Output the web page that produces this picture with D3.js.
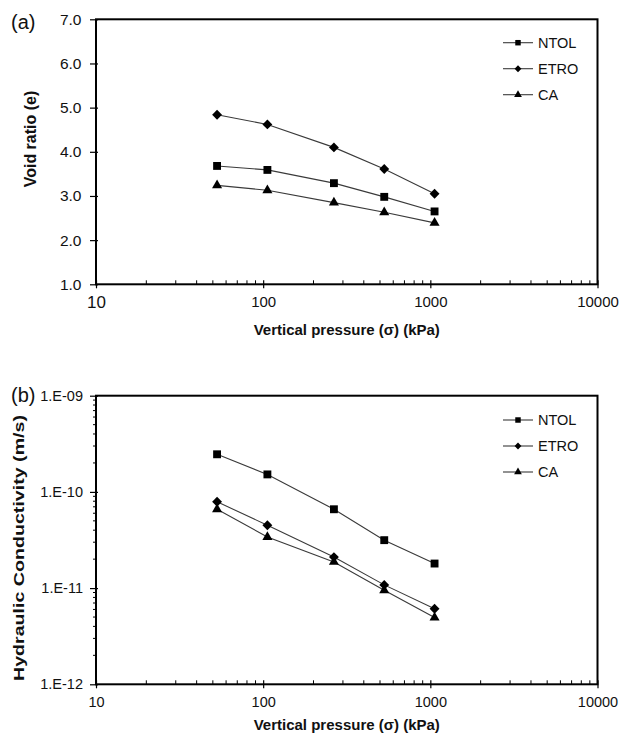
<!DOCTYPE html>
<html>
<head>
<meta charset="utf-8">
<script src="https://cdn.jsdelivr.net/npm/d3@7"></script>
<style>
body { margin: 0; background: #fff; }
svg { font-family: "Liberation Sans", Arial, sans-serif; }
</style>
</head>
<body>
<svg width="620" height="735"></svg>
<script>
// data
var pressure = [53, 106, 265, 530, 1060];
var seriesNames = ["NTOL", "ETRO", "CA"];

var voidNTOL = [3.68, 3.59, 3.29, 2.98, 2.65];
var voidETRO = [4.84, 4.62, 4.10, 3.61, 3.05];
var voidCA   = [3.24, 3.13, 2.85, 2.63, 2.39];

var kNTOL = [2.46e-10, 1.52e-10, 6.6e-11, 3.15e-11, 1.8e-11];
var kETRO = [7.9e-11, 4.5e-11, 2.1e-11, 1.08e-11, 6.1e-12];
var kCA   = [6.6e-11, 3.4e-11, 1.87e-11, 9.5e-12, 4.95e-12];

var xTicks = [10, 100, 1000, 10000];
var voidTicks = [1, 2, 3, 4, 5, 6, 7];
var kTicks = [1e-12, 1e-11, 1e-10, 1e-9];

var symbols = [d3.symbolSquare, d3.symbolDiamond2, d3.symbolTriangle];
var symSize = [62, 62, 44];
var legSize = [30, 30, 26];

var svg = d3.select("svg");
var left = 96, right = 597.5;

function minorsOf(decades) {
    var out = [];
    decades.forEach(function(d) {
	for (var m = 2; m <= 9; m++) out.push(m * d);
    });
    return out;
}

function panel(opt) {
    var g = svg.append("g");
    var x = d3.scaleLog().domain([10, 10000]).range([left, right]);
    var y = opt.y.range([opt.bottom, opt.top]);

    // minor ticks on x, pointing inwards
    g.selectAll(".xminor").data(minorsOf([10, 100, 1000])).enter()
	.append("line")
	.attr("x1", function(d) { return x(d); })
	.attr("x2", function(d) { return x(d); })
	.attr("y1", opt.bottom).attr("y2", opt.bottom - 4)
	.attr("stroke", "#000").attr("stroke-width", 1);

    if (opt.yMinor) {
	g.selectAll(".yminor").data(opt.yMinor).enter()
	    .append("line")
	    .attr("x1", left - 3).attr("x2", left)
	    .attr("y1", function(d) { return y(d); })
	    .attr("y2", function(d) { return y(d); })
	    .attr("stroke", "#000").attr("stroke-width", 1);
    }

    var line = d3.line()
	.x(function(d, i) { return x(pressure[i]); })
	.y(function(d) { return y(d); });

    opt.series.forEach(function(vals, s) {
	g.append("path")
	    .attr("d", line(vals))
	    .attr("fill", "none")
	    .attr("stroke", "#3a3a3a")
	    .attr("stroke-width", 1.1);
	g.selectAll(".m" + s).data(vals).enter()
	    .append("path")
	    .attr("transform", function(d, i) {
		return "translate(" + x(pressure[i]) + "," + y(d) + ")";
	    })
	    .attr("d", d3.symbol().type(symbols[s]).size(symSize[s]))
	    .attr("fill", "#000");
    });

    // frame
    g.append("rect")
	.attr("x", left).attr("y", opt.top)
	.attr("width", right - left).attr("height", opt.bottom - opt.top)
	.attr("fill", "none").attr("stroke", "#000").attr("stroke-width", 2);

    var xa = g.append("g")
	.attr("transform", "translate(0," + opt.bottom + ")")
	.call(d3.axisBottom(x).tickValues(xTicks).tickFormat(d3.format("d"))
	      .tickSizeInner(3).tickSizeOuter(0).tickPadding(9));
    xa.select(".domain").remove();
    xa.selectAll(".tick line").attr("y1", -4).attr("y2", 4).attr("stroke-width", 1.2);
    xa.selectAll(".tick text").attr("font-size", opt.xTickSize).attr("font-family", null).attr("fill", "#111");
    if (opt.bigTen) xa.select(".tick text").attr("font-size", 17);

    var ya = g.append("g")
	.attr("transform", "translate(" + left + ",0)")
	.call(d3.axisLeft(y).tickValues(opt.yTicks).tickFormat(opt.yFormat)
	      .tickSizeInner(6).tickSizeOuter(0).tickPadding(opt.yPad));
    ya.select(".domain").remove();
    ya.selectAll(".tick line").attr("x1", 2).attr("stroke-width", 1.2);
    ya.selectAll(".tick text").attr("font-size", opt.yTickSize).attr("font-family", null).attr("fill", "#111");

    // legend
    var leg = g.append("g");
    seriesNames.forEach(function(name, s) {
	var ly = opt.legendTop + s * 26;
	leg.append("line")
	    .attr("x1", 503).attr("x2", 533).attr("y1", ly).attr("y2", ly)
	    .attr("stroke", "#3a3a3a").attr("stroke-width", 1.1);
	leg.append("path")
	    .attr("transform", "translate(518," + ly + ")")
	    .attr("d", d3.symbol().type(symbols[s]).size(legSize[s]))
	    .attr("fill", "#000");
	leg.append("text")
	    .attr("x", 538).attr("y", ly).attr("dy", "0.36em")
	    .attr("font-size", 14.5).attr("fill", "#111")
	    .text(name);
    });

    // titles
    g.append("text")
	.attr("x", (left + right) / 2).attr("y", opt.xTitleY)
	.attr("text-anchor", "middle").attr("font-size", 15).attr("font-weight", "bold")
	.attr("fill", "#111")
	.text("Vertical pressure (\u03c3) (kPa)");

    var yt = g.append("text")
	.attr("transform", "translate(" + opt.yTitleX + "," + opt.yTitleY + ") rotate(-90)")
	.attr("text-anchor", "middle").attr("font-size", opt.yTitleSize).attr("font-weight", "bold")
	.attr("fill", "#111")
	.text(opt.yTitle);
    if (opt.yTitleLen) yt.attr("textLength", opt.yTitleLen).attr("lengthAdjust", "spacingAndGlyphs");

    g.append("text")
	.attr("x", 11).attr("y", opt.tagY)
	.attr("font-size", 20).attr("fill", "#111")
	.text(opt.tag);
}

panel({
    top: 19.3, bottom: 284.3,
    y: d3.scaleLinear().domain([1, 7]),
    yTicks: voidTicks,
    yFormat: d3.format(".1f"),
    yTickSize: 15.5, yPad: 8.5,
    xTickSize: 15,
    series: [voidNTOL, voidETRO, voidCA],
    legendTop: 42.7,
    xTitleY: 335,
    yTitle: "Void ratio (e)", yTitleX: 36, yTitleY: 139, yTitleSize: 16,
    tag: "(a)", tagY: 29,
    bigTen: true
});

panel({
    top: 395.7, bottom: 684.3,
    y: d3.scaleLog().domain([1e-12, 1e-9]),
    yTicks: kTicks,
    yFormat: function(d) {
	var e = Math.round(-Math.log10(d));
	return "1.E-" + (e < 10 ? "0" + e : e);
    },
    yMinor: minorsOf([1e-12, 1e-11, 1e-10]),
    yTickSize: 14.5, yPad: 7,
    xTickSize: 14.5,
    series: [kNTOL, kETRO, kCA],
    legendTop: 420,
    xTitleY: 730,
    yTitle: "Hydraulic Conductivity (m/s)", yTitleX: 24, yTitleY: 548, yTitleSize: 14.5,
    yTitleLen: 266,
    tag: "(b)", tagY: 402
});
</script>
</body>
</html>
